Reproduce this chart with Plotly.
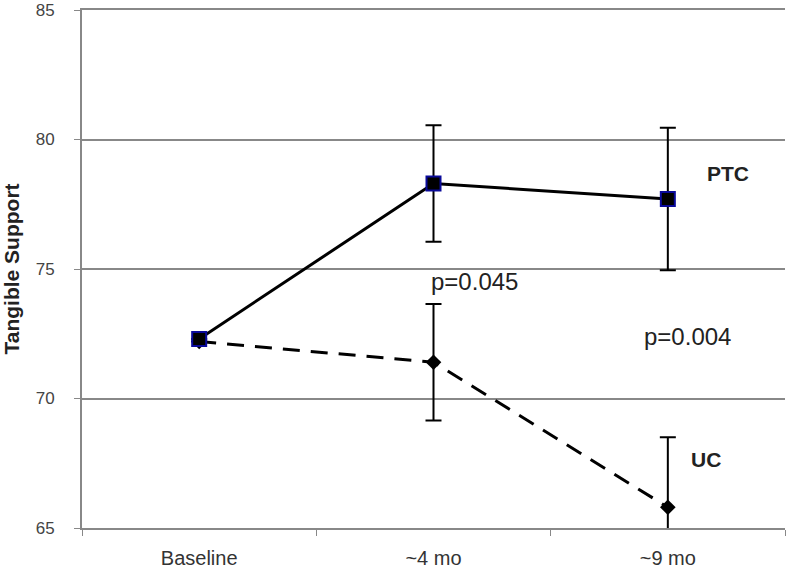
import plotly.graph_objects as go

categories = ["Baseline", "~4 mo", "~9 mo"]
ptc_values = [72.3, 78.3, 77.7]
ptc_err = [0, 2.25, 2.75]
uc_values = [72.2, 71.4, 65.8]
uc_err = [0, 2.25, 2.7]
y_ticks = [65, 70, 75, 80, 85]

fig = go.Figure()

fig.add_trace(go.Scatter(
    x=categories, y=uc_values, mode="lines+markers", name="UC",
    line=dict(color="black", width=3, dash="17px,11px"),
    marker=dict(symbol="diamond", size=12, color="black"),
    error_y=dict(type="data", array=uc_err, visible=True, color="black",
                 thickness=2, width=8),
))
fig.add_trace(go.Scatter(
    x=categories, y=ptc_values, mode="lines+markers", name="PTC",
    line=dict(color="black", width=3),
    marker=dict(symbol="square", size=14, color="black",
                line=dict(color="#0a0a9a", width=2)),
    error_y=dict(type="data", array=ptc_err, visible=True, color="black",
                 thickness=2, width=8),
))

font_fam = "Liberation Sans, Arial, sans-serif"
annots = [
    dict(text="<b>PTC</b>", x=0.919, y=78.7, size=21),
    dict(text="<b>UC</b>", x=0.888, y=67.65, size=21),
    dict(text="p=0.045", x=0.559, y=74.5, size=24),
    dict(text="p=0.004", x=0.862, y=72.4, size=24),
]
for a in annots:
    fig.add_annotation(text=a["text"], x=a["x"], y=a["y"], xref="paper", yref="y",
                       xanchor="center", yanchor="middle",
                       showarrow=False, font=dict(family=font_fam, size=a["size"], color="#222"))

fig.update_layout(
    width=800, height=572,
    margin=dict(l=82, r=15, t=10, b=44),
    paper_bgcolor="white", plot_bgcolor="white",
    showlegend=False,
    font=dict(family=font_fam, color="#333"),
)
# mirror=True draws the top line that stands in for the 85 gridline
fig.update_xaxes(
    type="category", tickson="boundaries", ticks="outside", ticklen=6,
    tickcolor="#888", showline=True, linecolor="#888", linewidth=2, mirror=True,
    showgrid=False, tickfont=dict(size=20, color="#333"), range=[-0.5, 2.5],
    automargin=False, ticklabelstandoff=11,
)
fig.update_yaxes(
    range=[65, 85], tickvals=y_ticks, ticks="outside", ticklen=6, tickcolor="#888",
    showline=True, linecolor="#888", linewidth=2, showgrid=True, gridcolor="#888",
    gridwidth=1.5, zeroline=False, tickfont=dict(size=17, color="#444"),
    ticklabelstandoff=16, automargin=False, ticklabeloverflow="allow",
    title=dict(text="<b>Tangible Support</b>", font=dict(size=21, color="#222"), standoff=14),
)

fig.write_html("out.html", config={"displayModeBar": False},
               post_script="document.body.style.margin='0';")
